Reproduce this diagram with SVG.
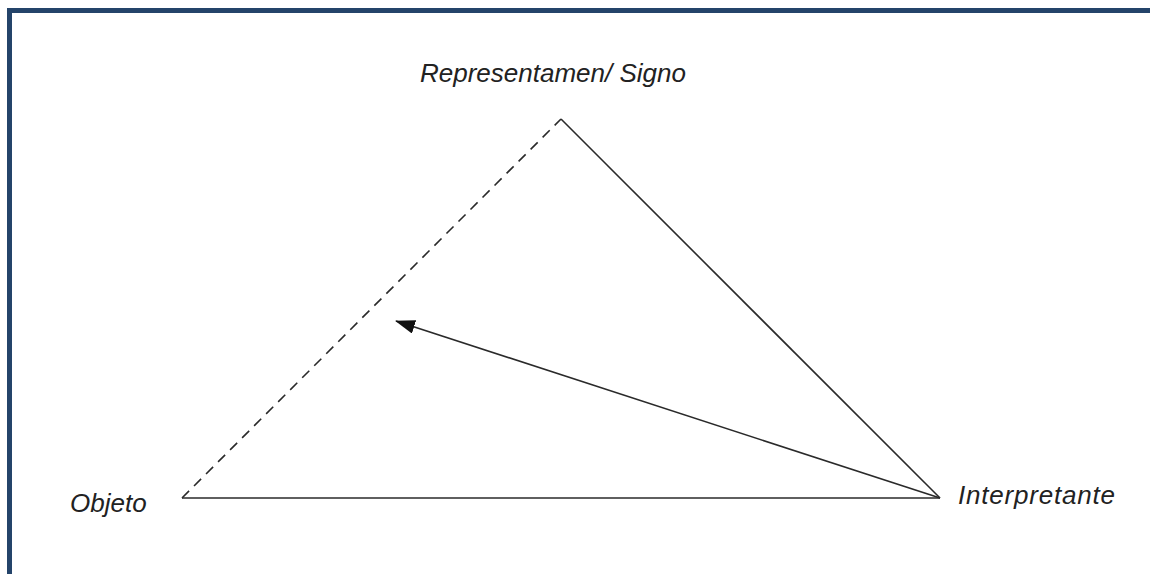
<svg xmlns="http://www.w3.org/2000/svg" width="1150" height="574" viewBox="0 0 1150 574">
<style>
.lbl{font-family:"Liberation Sans",Arial,sans-serif;font-style:italic;font-size:26px;fill:#222;}
.edge{stroke:#2a2a2a;stroke-width:1.6;fill:none;}
</style>
<defs>
<marker id="ah" viewBox="0 0 10 10" refX="9" refY="5" markerWidth="10" markerHeight="10" markerUnits="userSpaceOnUse" orient="auto">
<path d="M0,0 L10,5 L0,10 z" fill="#111"/>
</marker>
<marker id="ahb" viewBox="0 0 20 14" refX="19" refY="7" markerWidth="20" markerHeight="14" markerUnits="userSpaceOnUse" orient="auto">
<path d="M0,0 L20,7 L0,14 z" fill="#111"/>
</marker>
</defs>
<rect width="1150" height="574" fill="#fff"/>
<g id="frame" fill="#24446a">
<rect x="7" y="8" width="1143" height="5"/>
<rect x="7" y="8" width="5" height="566"/>
</g>
<g id="connectors">
<line class="edge" x1="182" y1="498" x2="561" y2="119" stroke-dasharray="10,7"/>
<line class="edge" x1="561" y1="119" x2="940" y2="498"/>
<line class="edge" x1="182" y1="498" x2="940" y2="498"/>
<line class="edge" x1="940" y1="498" x2="396" y2="321" marker-end="url(#ahb)"/>
</g>
<g id="signo"><text class="lbl" x="420" y="82">Representamen/ Signo</text></g>
<g id="objeto"><text class="lbl" x="70" y="512">Objeto</text></g>
<g id="interpretante"><text class="lbl" x="958" y="504" textLength="157">Interpretante</text></g>
</svg>
